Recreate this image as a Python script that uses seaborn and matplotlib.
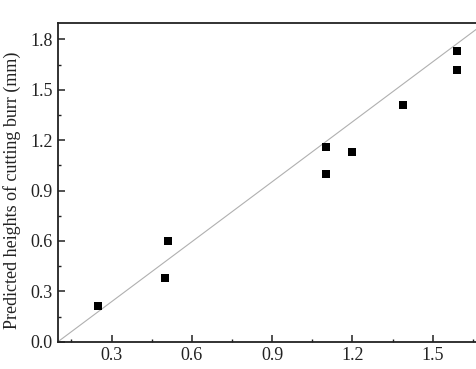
import matplotlib
matplotlib.use("Agg")
import matplotlib.pyplot as plt
import seaborn as sns
import pandas as pd
from matplotlib.ticker import MultipleLocator, FormatStrFormatter

measured = [0.25, 0.50, 0.51, 1.10, 1.10, 1.20, 1.39, 1.59, 1.59]
predicted = [0.21, 0.38, 0.60, 1.16, 1.00, 1.13, 1.41, 1.73, 1.62]
line_x = [0.1, 1.7]
line_y = [0.0, 1.904]
x_ticks = [0.3, 0.6, 0.9, 1.2, 1.5]
y_ticks = [0.0, 0.3, 0.6, 0.9, 1.2, 1.5, 1.8]
y_label = "Predicted heights of cutting burr (mm)"

sns.set_theme(style="ticks")
plt.rcParams["font.family"] = ["Liberation Serif", "DejaVu Serif"]

fig = plt.figure(figsize=(4.76, 3.69), dpi=100)
ax = fig.add_axes([58/476, 1-341.7/369, (486.3-58)/476, (341.7-22.5)/369])

df = pd.DataFrame({"x": measured, "y": predicted})
ldf = pd.DataFrame({"x": line_x, "y": line_y})
sns.lineplot(data=ldf, x="x", y="y", ax=ax, color="#b0b0b0", linewidth=0.8)
sns.scatterplot(data=df, x="x", y="y", ax=ax, marker="s", color="black",
                s=30, edgecolor="black", linewidth=0, zorder=3)

ax.set_xlim(0.1, 1.7)
ax.set_ylim(0.0, 1.9)
ax.set_xticks(x_ticks)
ax.set_yticks(y_ticks)
ax.xaxis.set_major_formatter(FormatStrFormatter("%.1f"))
ax.yaxis.set_major_formatter(FormatStrFormatter("%.1f"))
ax.xaxis.set_minor_locator(MultipleLocator(0.15))
ax.yaxis.set_minor_locator(MultipleLocator(0.15))
ax.tick_params(which="major", direction="in", length=5, width=1.1, labelsize=13,
               colors="#222222", pad=4)
ax.tick_params(which="minor", direction="in", length=2.5, width=1.0, colors="#222222")
for sp in ax.spines.values():
    sp.set_linewidth(1.3)
    sp.set_color("#222222")
ax.set_xlabel("")
ax.set_ylabel(y_label, fontsize=13, color="#222222")
ax.yaxis.set_label_coords(-0.087, 0.475)

fig.savefig("out.png", dpi=100)
